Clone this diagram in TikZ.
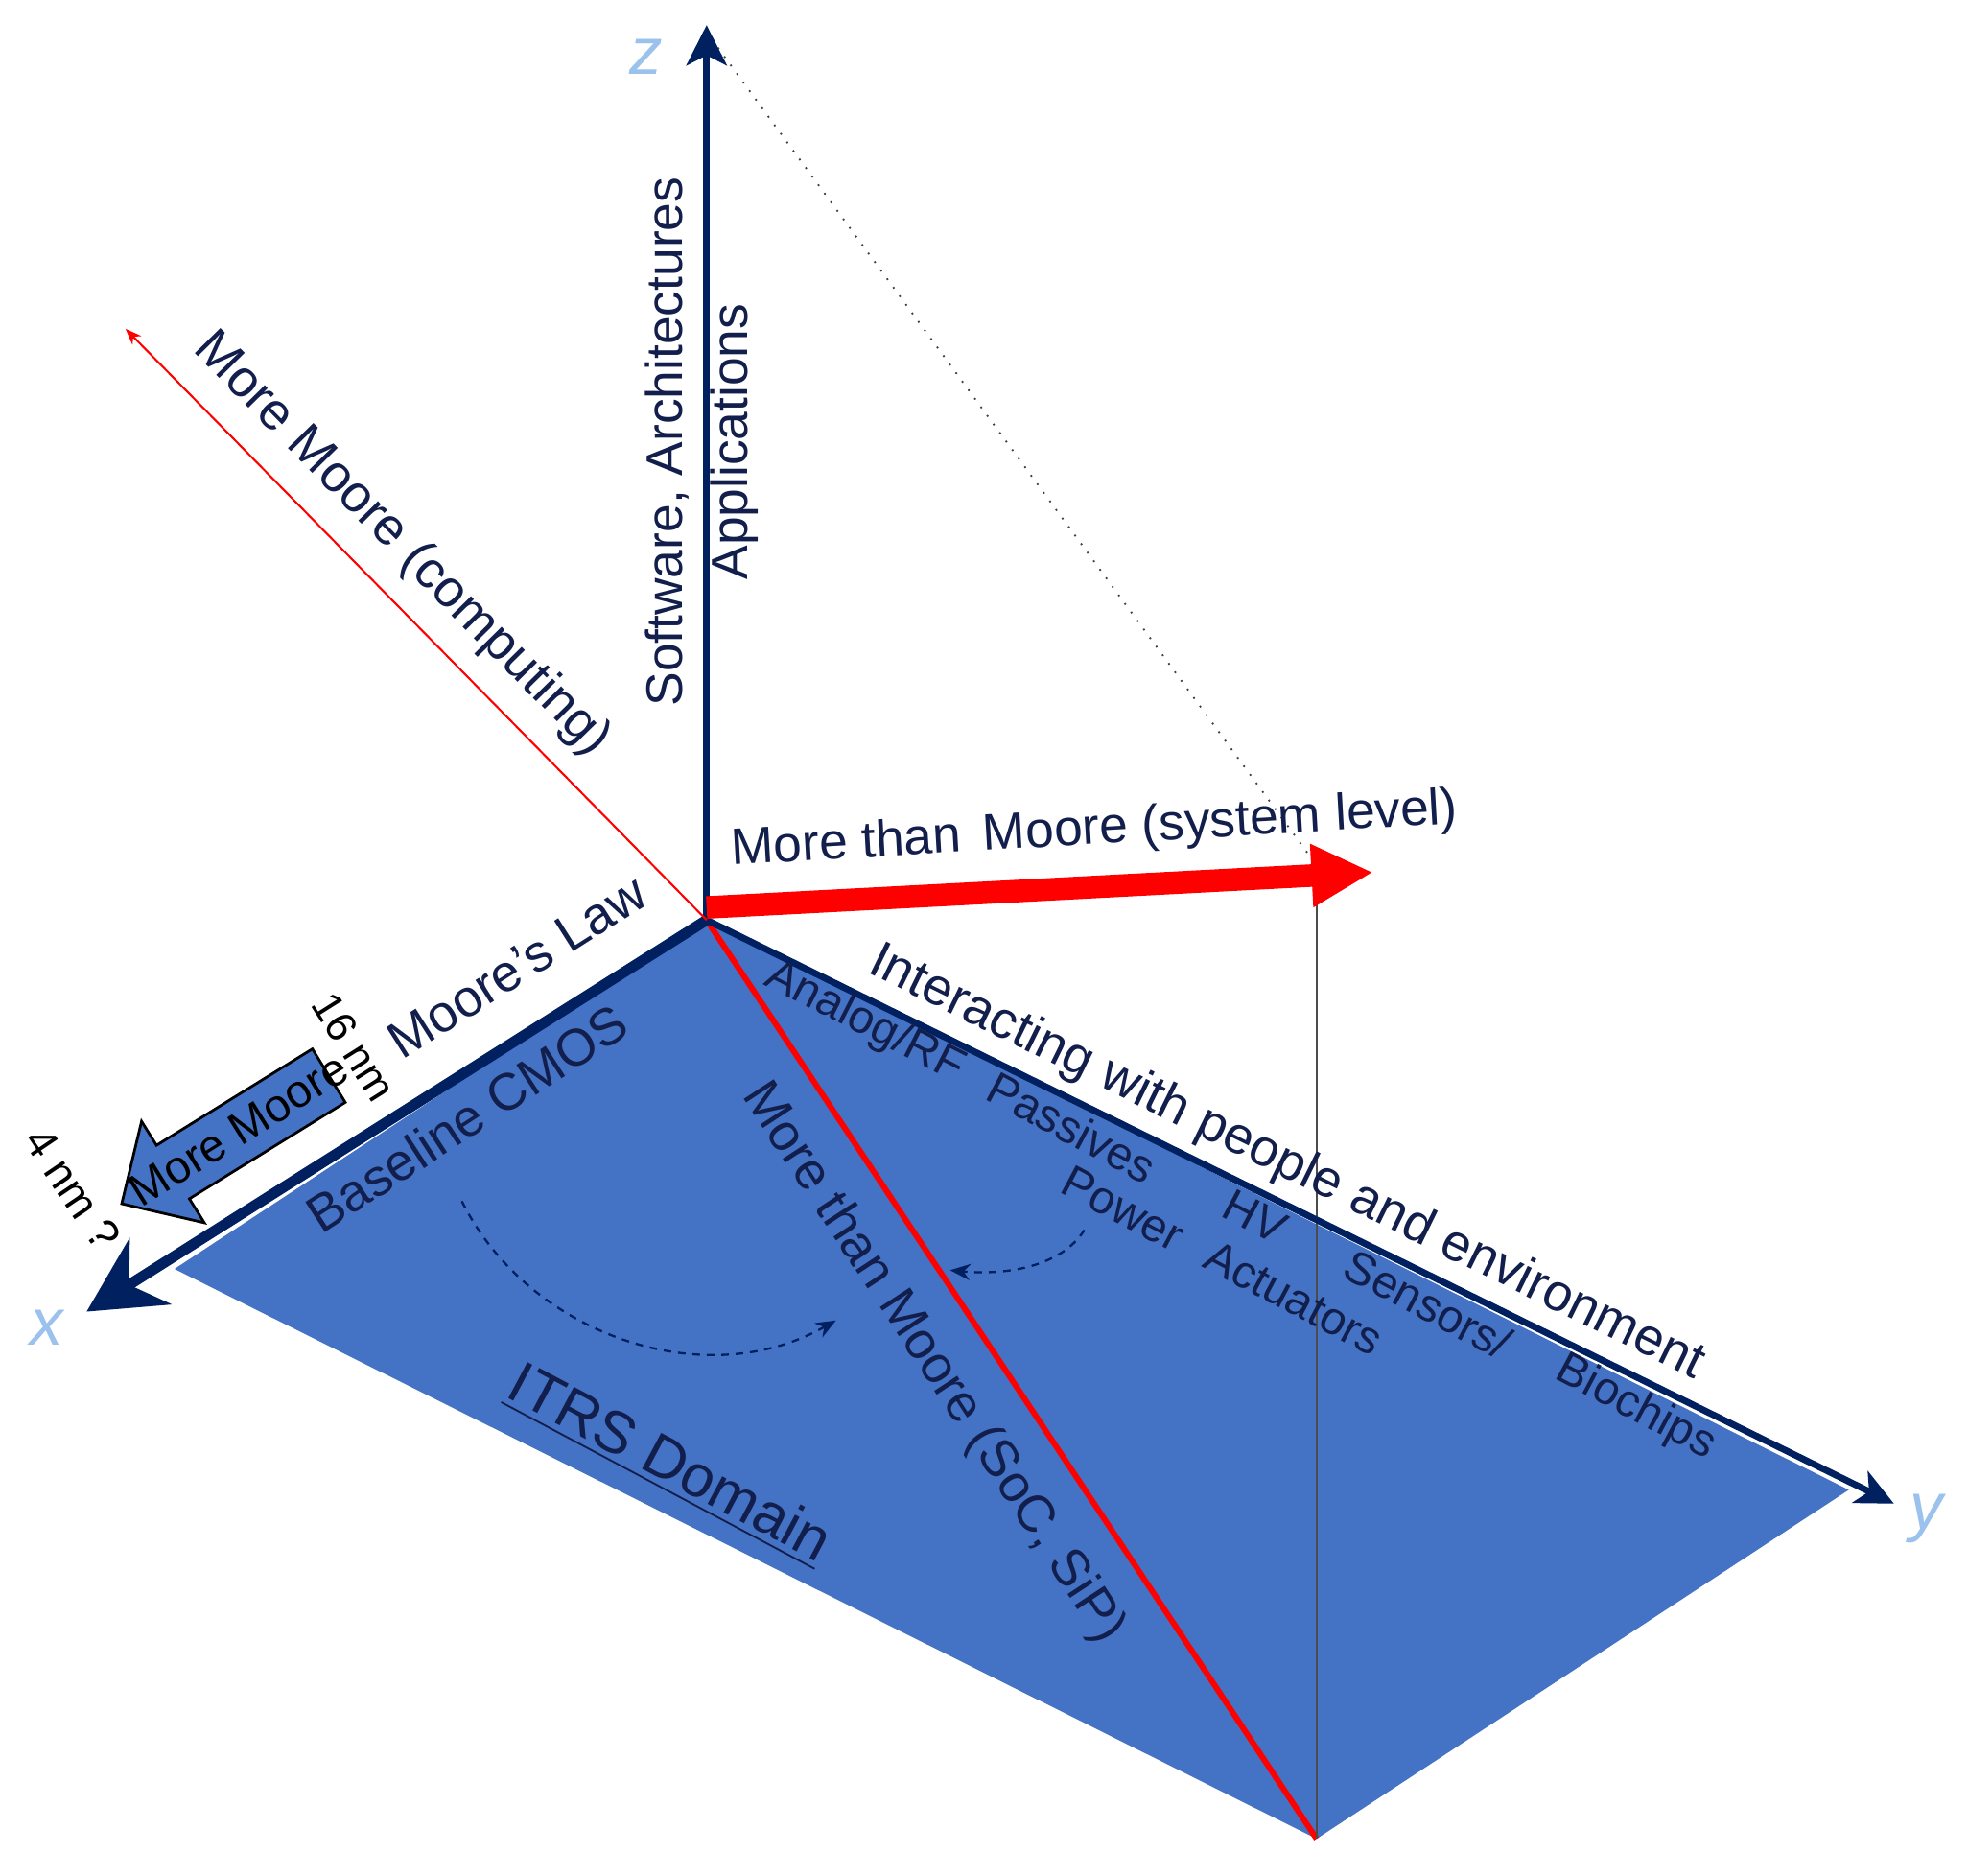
\documentclass[tikz,border=0pt]{standalone}
\usepackage{fontspec}
\setmainfont{Liberation Sans}
\usetikzlibrary{arrows.meta}
\definecolor{plane}{RGB}{68,114,196}
\definecolor{navy}{RGB}{0,32,96}
\definecolor{txt}{RGB}{18,30,75}
\definecolor{axlab}{RGB}{155,194,236}
\definecolor{redc}{RGB}{255,0,0}
\tikzset{
  lbl/.style={text=txt, font=\fontsize{11.8}{14}\selectfont, inner sep=0pt},
  sm/.style={text=txt, font=\fontsize{10.4}{12}\selectfont, inner sep=0pt},
  smk/.style={text=black, font=\fontsize{10}{12}\selectfont, inner sep=0pt},
  axl/.style={text=axlab, font=\fontsize{15}{18}\selectfont\itshape, inner sep=0pt},
  axisline/.style={navy},
  dasharrow/.style={navy, line width=0.5pt, dash pattern=on 0.6mm off 0.55mm, -{Stealth[length=0.16cm,width=0.13cm]}}
}
\begin{document}
\begin{tikzpicture}[x=0.01cm, y=-0.01cm]
\useasboundingbox (0,0) rectangle (1568,1494);
% key points
\coordinate (O) at (563,733);
\coordinate (A) at (139,1011);
\coordinate (C) at (1473,1187);
\coordinate (B) at (1049,1465);
\coordinate (Z) at (563,20);
\coordinate (X) at (69,1045);
\coordinate (Y) at (1509,1198);
\coordinate (R) at (100,262);
\coordinate (S0) at (563,723);
\coordinate (S1) at (1094,695);
\coordinate (H) at (1045,684);
\coordinate (Zd) at (572,38);
\coordinate (V) at (1049,705);
\coordinate (D1s) at (368,957);
\coordinate (D1e) at (666,1052);
\coordinate (D2s) at (864,980);
\coordinate (D2e) at (757,1012);
% plane
\fill[plane] (O) -- (A) -- (B) -- (C) -- cycle;
% red diagonal
\draw[redc, line width=1.3pt] (O) -- (B);
% thin lines
\draw[gray!60!black, line width=0.4pt] (V) -- (B);
\draw[gray!50!black, line width=0.4pt, dotted] (Zd) -- (H);
% axes
\draw[axisline, line width=1.5pt, -{Stealth[length=0.32cm,width=0.32cm,inset=0.08cm]}] (O) -- (Z);
\draw[axisline, line width=2.4pt, -{Stealth[length=0.6cm,width=0.62cm,inset=0.2cm]}] (O) -- (X);
\draw[axisline, line width=1.5pt, -{Stealth[length=0.3cm,width=0.28cm,inset=0.08cm]}] (O) -- (Y);
% red arrows
\draw[redc, line width=0.45pt, -{Stealth[length=0.13cm,width=0.1cm]}] (O) -- (R);
\draw[redc, line width=5.1pt, -{Triangle[length=0.49cm,width=0.47cm]}] (S0) -- (S1);
% More Moore block arrow
\draw[fill=plane, draw=black, line width=0.6pt] (248.9,835.7) -- (124.7,912.5) -- (112.8,893.4) -- (97,959) -- (162.8,974.2) -- (150.9,955.1) -- (275.1,878.3) -- cycle;
% dashed arrows
\draw[dasharrow] (D1s) .. controls (420,1062) and (560,1112) .. (D1e);
\draw[dasharrow] (D2s) .. controls (845,1010) and (800,1016) .. (D2e);
% axis labels
\node[axl] (zl) at (515,45) {z};
\node[axl] (xl) at (37,1058) {x};
\node[axl] (yl) at (1535,1210) {y};
% texts
\node[lbl, rotate=-45.5] (mmc) at (320,434) {More Moore (computing)};
\node[lbl, rotate=90, align=center, font=\fontsize{11.6}{14.8}\selectfont] (sw) at (559,352) {Software, Architectures\\Applications};
\node[lbl, font=\fontsize{11.6}{14}\selectfont, rotate=3.3] (mtms) at (872,662) {More than\hspace{0.15em} Moore (system level)};
\node[lbl, rotate=32.4] (ml) at (412,770) {Moore’s Law};
\node[lbl, rotate=33] (bc) at (372,891) {Baseline CMOS};
\node[smk, font=\fontsize{9.6}{11}\selectfont, rotate=-57.8] (n16) at (282,834) {16 nm};
\node[smk, rotate=-56] (n4) at (58,947) {4 nm ?};
\node[smk, font=\fontsize{10.4}{12}\selectfont, rotate=32] (mm) at (190,900) {More Moore};
\node[lbl, rotate=-26.2] (int) at (1025,927) {Interacting with people and environment};
\node[sm, rotate=-27] (arf) at (689,815) {Analog/RF};
\node[sm, rotate=-28] (pas) at (854,898) {Passives};
\node[sm, rotate=-28] (pow) at (895,963) {Power};
\node[sm, rotate=-28] (hv) at (1000,969) {HV};
\node[sm, rotate=-28] (act) at (1031,1034) {Actuators};
\node[sm, rotate=-28] (sen) at (1138,1039) {Sensors/};
\node[sm, rotate=-28] (bio) at (1303,1122) {Biochips};
\node[lbl, rotate=-56.8] (mtm) at (743,1086) {More than Moore (SoC, SiP)};
\node[lbl, font=\fontsize{13.4}{16}\selectfont, rotate=-28] (itrs) at (533,1167) {\underline{ITRS Domain}};
\end{tikzpicture}
\end{document}
